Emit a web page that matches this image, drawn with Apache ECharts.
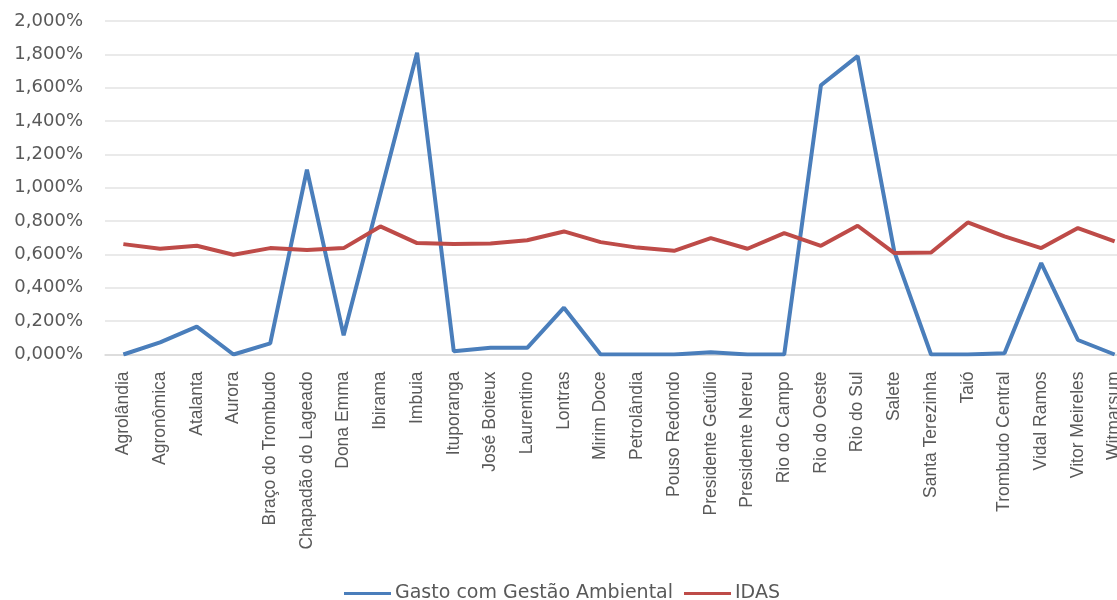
<!DOCTYPE html>
<html>
<head>
<meta charset="utf-8">
<script src="https://cdn.jsdelivr.net/npm/echarts@6/dist/echarts.min.js"></script>
<style>
  html, body { margin: 0; padding: 0; background: #ffffff; }
  #chart { width: 1117px; height: 600px; }
</style>
</head>
<body>
<div id="chart"></div>
<script>
// Municípios (eixo das categorias)
const municipios = [
  'Agrolândia', 'Agronômica', 'Atalanta', 'Aurora', 'Braço do Trombudo',
  'Chapadão do Lageado', 'Dona Emma', 'Ibirama', 'Imbuia', 'Ituporanga',
  'José Boiteux', 'Laurentino', 'Lontras', 'Mirim Doce', 'Petrolândia',
  'Pouso Redondo', 'Presidente Getúlio', 'Presidente Nereu', 'Rio do Campo',
  'Rio do Oeste', 'Rio do Sul', 'Salete', 'Santa Terezinha', 'Taió',
  'Trombudo Central', 'Vidal Ramos', 'Vitor Meireles', 'Witmarsum'
];

// Valores em %
const gastoGestaoAmbiental = [
  0.000, 0.073, 0.167, 0.000, 0.067,
  1.108, 0.115, 0.964, 1.809, 0.020,
  0.040, 0.040, 0.281, 0.000, 0.000,
  0.000, 0.013, 0.000, 0.000,
  1.615, 1.789, 0.615, 0.000, 0.000,
  0.007, 0.548, 0.087, 0.000
];

const idas = [
  0.662, 0.634, 0.652, 0.598, 0.638,
  0.626, 0.638, 0.768, 0.668, 0.662,
  0.665, 0.685, 0.738, 0.674, 0.641,
  0.622, 0.698, 0.634, 0.728,
  0.652, 0.772, 0.608, 0.612, 0.792,
  0.708, 0.638, 0.758, 0.678
];

// Eixo vertical: 0,000% a 2,000% em passos de 0,200%
const eixoMin = 0;
const eixoMax = 2;
const eixoPasso = 0.2;

const nomeSerieGasto = 'Gasto com Gestão Ambiental';
const nomeSerieIdas = 'IDAS';

const fonteEstreita = '"Liberation Sans", Arial, sans-serif';
const fonteLarga = '"DejaVu Sans", Verdana, sans-serif';
const cinzaTexto = '#595959';

const chart = echarts.init(document.getElementById('chart'), null, { renderer: 'canvas' });

chart.setOption({
  animation: false,
  backgroundColor: '#ffffff',
  grid: {
    left: 105,
    top: 21,
    width: 1028,
    height: 333.5,
    containLabel: false,
    outerBoundsMode: 'none'
  },
  legend: {
    data: [nomeSerieGasto, nomeSerieIdas],
    left: 339,
    top: 579,
    icon: 'rect',
    itemWidth: 47,
    itemHeight: 3,
    itemGap: 11,
    textStyle: {
      fontFamily: fonteLarga,
      fontSize: 19,
      color: cinzaTexto,
      padding: [0, 0, 0, -1]
    }
  },
  xAxis: {
    type: 'category',
    data: municipios,
    boundaryGap: true,
    axisLine: { show: true, lineStyle: { color: '#d9d9d9', width: 1.5 } },
    axisTick: { show: false },
    axisLabel: {
      rotate: 90,
      interval: 0,
      margin: 17,
      fontFamily: fonteEstreita,
      fontSize: 17.5,
      color: cinzaTexto
    }
  },
  yAxis: {
    type: 'value',
    min: eixoMin,
    max: eixoMax,
    interval: eixoPasso,
    axisLine: { show: false },
    axisTick: { show: false },
    splitLine: { lineStyle: { color: '#e3e3e3', width: 1.5 } },
    axisLabel: {
      margin: 22,
      fontFamily: fonteLarga,
      fontSize: 18,
      color: cinzaTexto,
      formatter: v => v.toFixed(3).replace('.', ',') + '%'
    }
  },
  series: [
    {
      name: nomeSerieGasto,
      type: 'line',
      data: gastoGestaoAmbiental,
      symbol: 'none',
      lineStyle: { color: '#4a7ebb', width: 4 },
      itemStyle: { color: '#4a7ebb' },
      z: 2
    },
    {
      name: nomeSerieIdas,
      type: 'line',
      data: idas,
      symbol: 'none',
      lineStyle: { color: '#be4b48', width: 4 },
      itemStyle: { color: '#be4b48' },
      z: 3
    }
  ]
});
</script>
</body>
</html>
